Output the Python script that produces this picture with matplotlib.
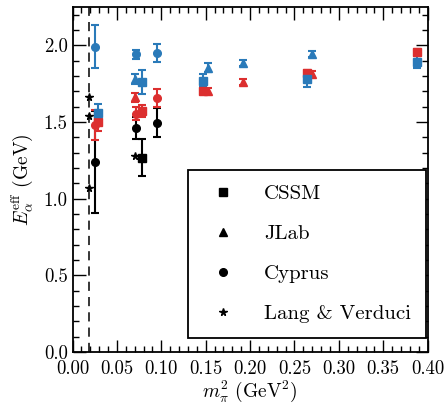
import matplotlib
matplotlib.use("Agg")
import matplotlib.pyplot as plt
from matplotlib.lines import Line2D
from matplotlib.ticker import MultipleLocator, FormatStrFormatter

plt.rcParams['font.family'] = 'serif'
plt.rcParams['font.serif'] = ['cmr10']
plt.rcParams['mathtext.fontset'] = 'cm'
plt.rcParams['axes.formatter.use_mathtext'] = True

BLUE = '#2a7ab9'
RED = '#dc2f2f'
BLACK = '#000000'

# CSSM (squares)
cssm_blue_x = [0.029, 0.078, 0.147, 0.264, 0.388]
cssm_blue_y = [1.56, 1.76, 1.77, 1.78, 1.89]
cssm_blue_e = [0.06, 0.08, 0.04, 0.05, 0.04]
cssm_red_x = [0.029, 0.078, 0.147, 0.264, 0.388]
cssm_red_y = [1.50, 1.57, 1.70, 1.82, 1.955]
cssm_red_e = [0.06, 0.04, 0.02, 0.02, 0.02]
cssm_black_x = [0.078]
cssm_black_y = [1.266]
cssm_black_e = [0.12]

# JLab (triangles)
jlab_x = [0.070, 0.153, 0.192, 0.270]
jlab_blue_y = [1.78, 1.855, 1.887, 1.946]
jlab_blue_e = [0.03, 0.03, 0.02, 0.02]
jlab_red_y = [1.66, 1.70, 1.76, 1.815]
jlab_red_e = [0.03, 0.02, 0.02, 0.02]

# Cyprus (circles)
cyprus_x = [0.025, 0.072, 0.095]
cyprus_blue_y = [1.99, 1.94, 1.95]
cyprus_blue_e = [0.14, 0.03, 0.06]
cyprus_red_y = [1.48, 1.555, 1.655]
cyprus_red_e = [0.10, 0.04, 0.06]
cyprus_black_y = [1.24, 1.46, 1.495]
cyprus_black_e = [0.33, 0.07, 0.095]

# Lang & Verduci (stars)
lv_x = [0.018, 0.018, 0.018, 0.070]
lv_y = [1.665, 1.538, 1.07, 1.277]

phys_mpi2 = 0.018

legend_labels = ['CSSM', 'JLab', 'Cyprus', 'Lang & Verduci']

fig = plt.figure(figsize=(4.45, 4.08), dpi=100)
ax = fig.add_axes([0.163, 0.137, 0.798, 0.846])

kw = dict(linestyle='none', capsize=3, elinewidth=1.5, capthick=1.5, markersize=5.5)

ax.axvline(phys_mpi2, color='black', linestyle=(0, (6, 4)), linewidth=1.1, zorder=1)

ax.errorbar(cyprus_x, cyprus_black_y, yerr=cyprus_black_e, fmt='o', color=BLACK, **kw)
ax.errorbar(cssm_black_x, cssm_black_y, yerr=cssm_black_e, fmt='s', color=BLACK, **kw)
ax.plot(lv_x, lv_y, '*', color=BLACK, markersize=5.5, linestyle='none')

ax.errorbar(cyprus_x, cyprus_red_y, yerr=cyprus_red_e, fmt='o', color=RED, **kw)
ax.errorbar(jlab_x, jlab_red_y, yerr=jlab_red_e, fmt='^', color=RED, **kw)
ax.errorbar(cssm_red_x, cssm_red_y, yerr=cssm_red_e, fmt='s', color=RED, **kw)

ax.errorbar(cyprus_x, cyprus_blue_y, yerr=cyprus_blue_e, fmt='o', color=BLUE, **kw)
ax.errorbar(jlab_x, jlab_blue_y, yerr=jlab_blue_e, fmt='^', color=BLUE, **kw)
ax.errorbar(cssm_blue_x, cssm_blue_y, yerr=cssm_blue_e, fmt='s', color=BLUE, **kw)

ax.set_xlim(0.0, 0.40)
ax.set_ylim(0.0, 2.25)
ax.xaxis.set_major_locator(MultipleLocator(0.05))
ax.xaxis.set_minor_locator(MultipleLocator(0.01))
ax.yaxis.set_major_locator(MultipleLocator(0.5))
ax.yaxis.set_minor_locator(MultipleLocator(0.1))
ax.xaxis.set_major_formatter(FormatStrFormatter('%.2f'))
ax.yaxis.set_major_formatter(FormatStrFormatter('%.1f'))
ax.tick_params(which='both', direction='in', top=True, right=True, labelsize=13.5)
ax.tick_params(axis='x', which='major', pad=6)
ax.tick_params(which='major', length=9, width=1.0)
ax.tick_params(which='minor', length=4.5, width=1.0)
for s in ax.spines.values():
    s.set_linewidth(1.3)

ax.set_xlabel(r'$m_\pi^2$ (GeV$^2$)', fontsize=14, labelpad=0)
ax.set_ylabel(r'$E_\alpha^{\rm eff}$ (GeV)', fontsize=14, labelpad=6)

markers = ['s', '^', 'o', '*']
handles = [Line2D([], [], marker=m, color='black', linestyle='none',
                  markersize=5.5) for m in markers]
leg = ax.legend(handles, legend_labels, loc='lower left', bbox_to_anchor=(0.325, 0.041),
                fontsize=15, frameon=True, fancybox=False, edgecolor='black',
                framealpha=1, handlelength=2.0, handletextpad=0.95,
                labelspacing=1.03, borderpad=0.7, borderaxespad=0)
leg.get_frame().set_linewidth(1.3)

fig.savefig('out.png', dpi=100)
